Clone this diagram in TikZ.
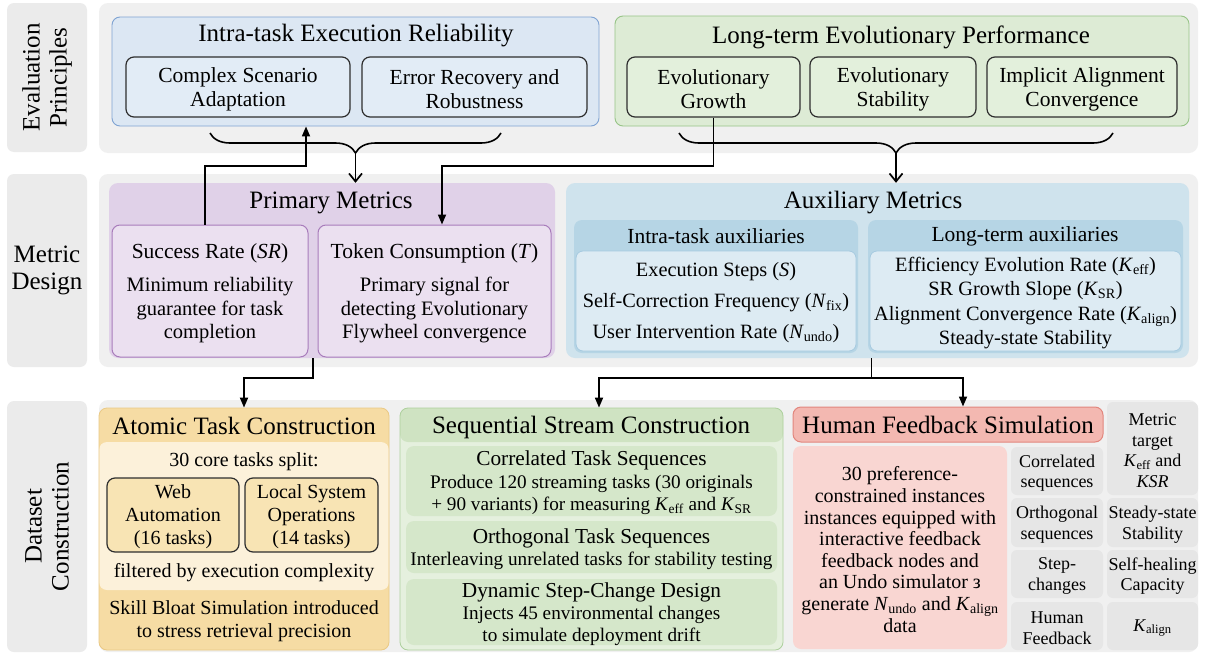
\documentclass[tikz,border=0pt]{standalone}
\usepackage{fontspec}
\setmainfont{Liberation Serif}
\usetikzlibrary{positioning,fit,arrows.meta,decorations.pathreplacing}

\definecolor{sidegray}{HTML}{EBEBEB}
\definecolor{bandgray}{HTML}{F0F0F0}
\definecolor{relfill}{HTML}{DCE7F3}
\definecolor{relline}{HTML}{7FA3D2}
\definecolor{relsub}{HTML}{E2ECF6}
\definecolor{evofill}{HTML}{DDEBD5}
\definecolor{evoline}{HTML}{97C487}
\definecolor{evosub}{HTML}{E3F0DC}
\definecolor{primfill}{HTML}{E0D1E8}
\definecolor{primsub}{HTML}{EBE0F0}
\definecolor{primline}{HTML}{A87CBB}
\definecolor{auxfill}{HTML}{CFE3ED}
\definecolor{auxhead}{HTML}{B6D5E5}
\definecolor{auxsub}{HTML}{DDEBF3}
\definecolor{auxline}{HTML}{A6CAE0}
\definecolor{atomdark}{HTML}{F6DCA4}
\definecolor{atomlight}{HTML}{FCF1DA}
\definecolor{atomline}{HTML}{EAC985}
\definecolor{atomsub}{HTML}{F8E4B4}
\definecolor{seqhead}{HTML}{CFE3C2}
\definecolor{seqbody}{HTML}{E5F0DE}
\definecolor{seqpanel}{HTML}{D5E7CA}
\definecolor{seqline}{HTML}{ADD09D}
\definecolor{humhead}{HTML}{F3B8B1}
\definecolor{humline}{HTML}{E2867D}
\definecolor{humbody}{HTML}{F9D6D2}
\definecolor{cellgray}{HTML}{E6E6E6}
\definecolor{boxline}{HTML}{2E2E2E}

\newcommand{\Kx}[1]{\textit{K}\textsubscript{#1}}
\newcommand{\Nx}[1]{\textit{N}\textsubscript{#1}}

\tikzset{
  band/.style={fill=bandgray, rounded corners=9pt, inner sep=0pt},
  sidebox/.style={fill=sidegray, rounded corners=7pt, inner sep=0pt},
  sidetext/.style={font=\fontsize{25}{27}\selectfont, align=center},
  ttl/.style={font=\fontsize{25}{28}\selectfont, inner sep=0pt},
  subttl/.style={font=\fontsize{21.5}{24}\selectfont, inner sep=0pt},
  txt/.style={font=\fontsize{20}{23}\selectfont, align=center, inner sep=0pt},
  bigtxt/.style={font=\fontsize{21.5}{24}\selectfont, align=center, inner sep=0pt},
  celltxt/.style={font=\fontsize{18}{20.5}\selectfont, align=center, inner sep=0pt},
  panel/.style={rounded corners=8pt, inner sep=0pt},
  blkbox/.style={panel, draw=boxline, line width=1.2pt},
  cell/.style={panel, fill=cellgray, rounded corners=6pt},
  arr/.style={line width=1.7pt, -{Triangle[length=10pt,width=8pt]}},
  openarr/.style={line width=1.7pt, -{Straight Barb[length=8pt,width=13pt]}},
  brc/.style={decorate, decoration={brace, mirror, amplitude=20pt}, line width=1.6pt},
}

\begin{document}
\begin{tikzpicture}[x=1pt, y=-1pt]
\useasboundingbox (0,0) rectangle (1205,653);
\fill[white] (0,0) rectangle (1205,653);

% evaluation principles
\node[sidebox, fit={(7,3)(87,152)}] (sideA) {};
\node[sidetext, rotate=90] (sideAt) at (sideA.center) {Evaluation\\Principles};
\node[band, fit={(99,3)(1198,153)}] (bandA) {};

\node[panel, fill=relfill, draw=relline, line width=0.9pt, fit={(112,17)(599,126)}] (relA) {};
\node[ttl] (relAt) at (356,36) {Intra-task Execution Reliability};
\node[blkbox, fill=relsub, fit={(126,57)(350,117)}] (cplx) {};
\node[bigtxt] at ([yshift=-2pt]cplx.center) {Complex Scenario\\Adaptation};
\node[blkbox, fill=relsub, fit={(362,57)(587,117)}] (err) {};
\node[bigtxt] at ([yshift=-2pt]err.center) {Error Recovery and\\Robustness};

\node[panel, fill=evofill, draw=evoline, line width=0.9pt, fit={(615,16)(1189,126)}] (evoA) {};
\node[ttl] (evoAt) at (901,37) {Long-term Evolutionary Performance};
\node[blkbox, fill=evosub, fit={(627,57)(800,117)}] (grow) {};
\node[bigtxt] at ([yshift=-2pt]grow.center) {Evolutionary\\Growth};
\node[blkbox, fill=evosub, fit={(810,57)(976,117)}] (stab) {};
\node[bigtxt] at ([yshift=-2pt]stab.center) {Evolutionary\\Stability};
\node[blkbox, fill=evosub, fit={(987,57)(1177,117)}] (align) {};
\node[bigtxt] at ([yshift=-2pt]align.center) {Implicit Alignment\\Convergence};

% metric design
\node[sidebox, fit={(7,174)(87,367)}] (sideB) {};
\node[sidetext] (sideBt) at (sideB.center) {Metric\\Design};
\node[band, fit={(99,174)(1198,367)}] (bandB) {};

\node[panel, fill=primfill, rounded corners=9pt, fit={(109,183)(555,358)}] (prim) {};
\node[ttl] (primt) at (331,203) {Primary Metrics};
\node[panel, fill=primsub, draw=primline, line width=1pt, fit={(112,225)(308,357)}] (sr) {};
\node[txt, font=\fontsize{20.5}{23.5}\selectfont] (srt) at ([yshift=-2pt]sr.center)
  {{\fontsize{21.5}{24}\selectfont Success Rate (\textit{SR})}\\[10pt]Minimum reliability\\guarantee for task\\completion};
\node[panel, fill=primsub, draw=primline, line width=1pt, fit={(318,225)(551,357)}] (tok) {};
\node[txt, font=\fontsize{20.5}{23.5}\selectfont] (tokt) at ([yshift=-2pt]tok.center)
  {{\fontsize{21.5}{24}\selectfont Token Consumption (\textit{T})}\\[10pt]Primary signal for\\detecting Evolutionary\\Flywheel convergence};

\node[panel, fill=auxfill, rounded corners=9pt, fit={(566,183)(1189,358)}] (aux) {};
\node[ttl] (auxt) at (873,203) {Auxiliary Metrics};
\node[panel, fill=auxhead, fit={(574,220)(858,353)}] (intra) {};
\node[subttl] (intrat) at (716,236) {Intra-task auxiliaries};
\node[panel, fill=auxsub, draw=auxline, line width=0.8pt, rounded corners=7pt, fit={(576,251)(856,351)}] (intrab) {};
\node[txt, font=\fontsize{20.3}{31}\selectfont] at ([yshift=-2pt]intrab.center)
  {Execution Steps (\textit{S})\\Self-Correction Frequency (\Nx{fix})\\User Intervention Rate (\Nx{undo})};
\node[panel, fill=auxhead, fit={(868,220)(1183,353)}] (longt) {};
\node[subttl] (longtt) at (1025,236) {Long-term auxiliaries};
\node[panel, fill=auxsub, draw=auxline, line width=0.8pt, rounded corners=7pt, fit={(870,251)(1181,351)}] (longtb) {};
\node[txt, font=\fontsize{20.3}{24.5}\selectfont] at ([yshift=-2pt]longtb.center)
  {Efficiency Evolution Rate (\Kx{eff})\\SR Growth Slope (\Kx{SR})\\Alignment Convergence Rate (\Kx{align})\\Steady-state Stability};

% dataset construction
\node[sidebox, fit={(7,401)(87,652)}] (sideC) {};
\node[sidetext, rotate=90] (sideCt) at (sideC.center) {Dataset\\Construction};
\node[band, fit={(99,400)(1198,652)}] (bandC) {};

\node[panel, fill=atomdark, draw=atomline, line width=0.8pt, fit={(99,408)(389,650)},
  path picture={\fill[atomlight] ([yshift=-34pt]path picture bounding box.north west) rectangle ([yshift=-182pt]path picture bounding box.north east);}] (atom) {};
\node[ttl] (atomt) at (244,426) {Atomic Task Construction};
\node[txt] (split) at (244,462) {30 core tasks split:};
\node[blkbox, fill=atomsub, fit={(107,478)(239,552)}] (web) {};
\node[txt] at ([yshift=-2pt]web.center) {Web\\Automation\\(16 tasks)};
\node[blkbox, fill=atomsub, fit={(245,478)(378,552)}] (local) {};
\node[txt] at ([yshift=-2pt]local.center) {Local System\\Operations\\(14 tasks)};
\node[txt] (filt) at (244,573) {filtered by execution complexity};
\node[txt] (bloat) at (244,621) {Skill Bloat Simulation introduced\\to stress retrieval precision};

\node[panel, fill=seqbody, draw=seqline, line width=0.8pt, fit={(400,408)(783,650)},
  path picture={\fill[seqhead] (path picture bounding box.north west) rectangle ([yshift=-34pt]path picture bounding box.north east);}] (seq) {};
\node[ttl] (seqt) at (591,427) {Sequential Stream Construction};
\node[panel, fill=seqpanel, fit={(406,446)(777,516)}] (corr) {};
\node[txt, font=\fontsize{19.2}{22.5}\selectfont] at ([yshift=-2pt]corr.center)
  {{\fontsize{21.3}{23}\selectfont Correlated Task Sequences}\\Produce 120 streaming tasks (30 originals\\+ 90 variants) for measuring \Kx{eff} and \Kx{SR}};
\node[panel, fill=seqpanel, fit={(406,521)(777,573)}] (orth) {};
\node[txt, font=\fontsize{19.2}{22.5}\selectfont] at ([yshift=-2pt]orth.center)
  {{\fontsize{21.3}{23}\selectfont Orthogonal Task Sequences}\\Interleaving unrelated tasks for stability testing};
\node[panel, fill=seqpanel, fit={(406,579)(777,645)}] (dyn) {};
\node[txt, font=\fontsize{19.2}{22}\selectfont] at ([yshift=-2pt]dyn.center)
  {{\fontsize{21.3}{23}\selectfont Dynamic Step-Change Design}\\Injects 45 environmental changes\\to simulate deployment drift};

\node[panel, fill=humhead, draw=humline, line width=1pt, fit={(793,407)(1103,442)}] (humh) {};
\node[ttl] at (humh.center) {Human Feedback Simulation};
\node[panel, fill=humbody, fit={(793,446)(1007,649)}] (humb) {};
\node[txt, font=\fontsize{20}{21.6}\selectfont] at ([yshift=-2pt]humb.center)
  {30 preference-\\constrained instances\\instances equipped with\\interactive feedback\\feedback nodes and\\an Undo simulator з\\generate \Nx{undo} and \Kx{align}\\data};

\node[cell, fit={(1011,447)(1103,495)}] (c11) {};
\node[celltxt] at ([yshift=-2pt]c11.center) {Correlated\\sequences};
\node[cell, fit={(1011,498)(1103,547)}] (c12) {};
\node[celltxt] at ([yshift=-2pt]c12.center) {Orthogonal\\sequences};
\node[cell, fit={(1011,550)(1103,598)}] (c13) {};
\node[celltxt] at ([yshift=-2pt]c13.center) {Step-\\changes};
\node[cell, fit={(1011,602)(1103,650)}] (c14) {};
\node[celltxt] at ([yshift=-2pt]c14.center) {Human\\Feedback};
\node[cell, fit={(1107,402)(1198,495)}] (c21) {};
\node[celltxt] at ([yshift=-2pt]c21.center) {Metric\\target\\\Kx{eff} and\\\textit{KSR}};
\node[cell, fit={(1107,498)(1198,547)}] (c22) {};
\node[celltxt] at ([yshift=-2pt]c22.center) {Steady-state\\Stability};
\node[cell, fit={(1107,550)(1198,598)}] (c23) {};
\node[celltxt] at ([yshift=-2pt]c23.center) {Self-healing\\Capacity};
\node[cell, fit={(1107,602)(1198,650)}] (c24) {};
\node[celltxt] at ([yshift=-2pt]c24.center) {\Kx{align}};

% braces and connectors
\coordinate (bA1) at (210,133);
\coordinate (bA2) at (501,133);
\coordinate (bAt) at (355.5,153);
\coordinate (bB1) at (679,133);
\coordinate (bB2) at (1113,133);
\coordinate (bBt) at (896,153);
\draw[brc] (bA1) -- (bA2);
\draw[brc] (bB1) -- (bB2);
\draw[openarr] (bAt) -- (bAt |- prim.north);
\draw[openarr] (bBt) -- (bBt |- aux.north);

\coordinate (j1) at (306,166);
\coordinate (j2) at (442,166);
\draw[arr] ([xshift=-5pt]sr.north) |- (j1) -- (j1 |- relA.south);
\draw[arr] (grow.south) |- (j2) -- (j2 |- tok.north);

\coordinate (k1) at (313,378);
\coordinate (k2) at (599,378);
\coordinate (k3) at (963,378);
\draw[arr] (k1 |- prim.south) -- (k1) -| (atom.north);
\draw[arr] ([xshift=-6pt]aux.south) |- (k2) -- (k2 |- seq.north);
\draw[arr] ([xshift=-6pt]aux.south) |- (k3) -- (k3 |- humh.north);
\end{tikzpicture}
\end{document}
